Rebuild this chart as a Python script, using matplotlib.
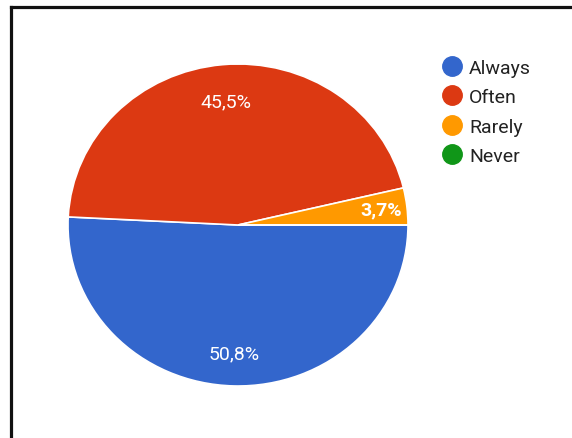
import numpy as np
import matplotlib
matplotlib.use("Agg")
import matplotlib.pyplot as plt
from matplotlib.lines import Line2D

plt.rcParams['font.family'] = ['Roboto', 'DejaVu Sans']

# Réponses au questionnaire
labels = ["Always", "Often", "Rarely", "Never"]
values = [50.8, 45.5, 3.7, 0.0]
colors = ["#3366cc", "#dc3912", "#ff9900", "#109618"]

W, H = 572, 439
fig = plt.figure(figsize=(W / 100, H / 100), dpi=100)
fig.patch.set_facecolor('white')

# camembert un peu aplati comme dans l'export d'origine
cx, cy, rx, ry = 238, 226, 170, 161
ax = fig.add_axes([(cx - rx) / W, (H - cy - ry) / H, 2 * rx / W, 2 * ry / H])

wedges, _ = ax.pie(values, colors=colors, startangle=0, counterclock=False,
                   radius=1, wedgeprops=dict(edgecolor='white', linewidth=1.2))
ax.set_aspect('auto')
ax.set_xlim(-1, 1)
ax.set_ylim(-1, 1)
ax.axis('off')

# pourcentages à l'intérieur des parts
dists = [0.80, 0.77, 0.85, 0.8]
for w, v, d in zip(wedges, values, dists):
    if v < 1:
        continue
    a = np.deg2rad((w.theta1 + w.theta2) / 2)
    txt = f"{v:.1f}%".replace('.', ',')
    ax.text(d * np.cos(a), d * np.sin(a), txt, ha='center', va='center',
            color='white', fontsize=14,
            fontweight='bold' if v < 5 else 'normal')

# légende à droite
handles = [Line2D([], [], marker='o', linestyle='none', markersize=14,
                  markerfacecolor=c, markeredgecolor=c) for c in colors]
fig.legend(handles, labels, loc='upper left', bbox_to_anchor=(440 / W, 1 - 60 / H),
           frameon=False, fontsize=14, labelspacing=0.58, handletextpad=0.3,
           handlelength=1.2, borderpad=0, borderaxespad=0, labelcolor='#222222')

# cadre noir (haut et gauche)
fig.add_artist(Line2D([10.5 / W, 1], [1 - 8 / H, 1 - 8 / H], color='#111111',
                      linewidth=2.3, transform=fig.transFigure))
fig.add_artist(Line2D([10.5 / W, 10.5 / W], [0, 1 - 8 / H], color='#111111',
                      linewidth=2.3, transform=fig.transFigure))

fig.savefig('out.png', dpi=100)
